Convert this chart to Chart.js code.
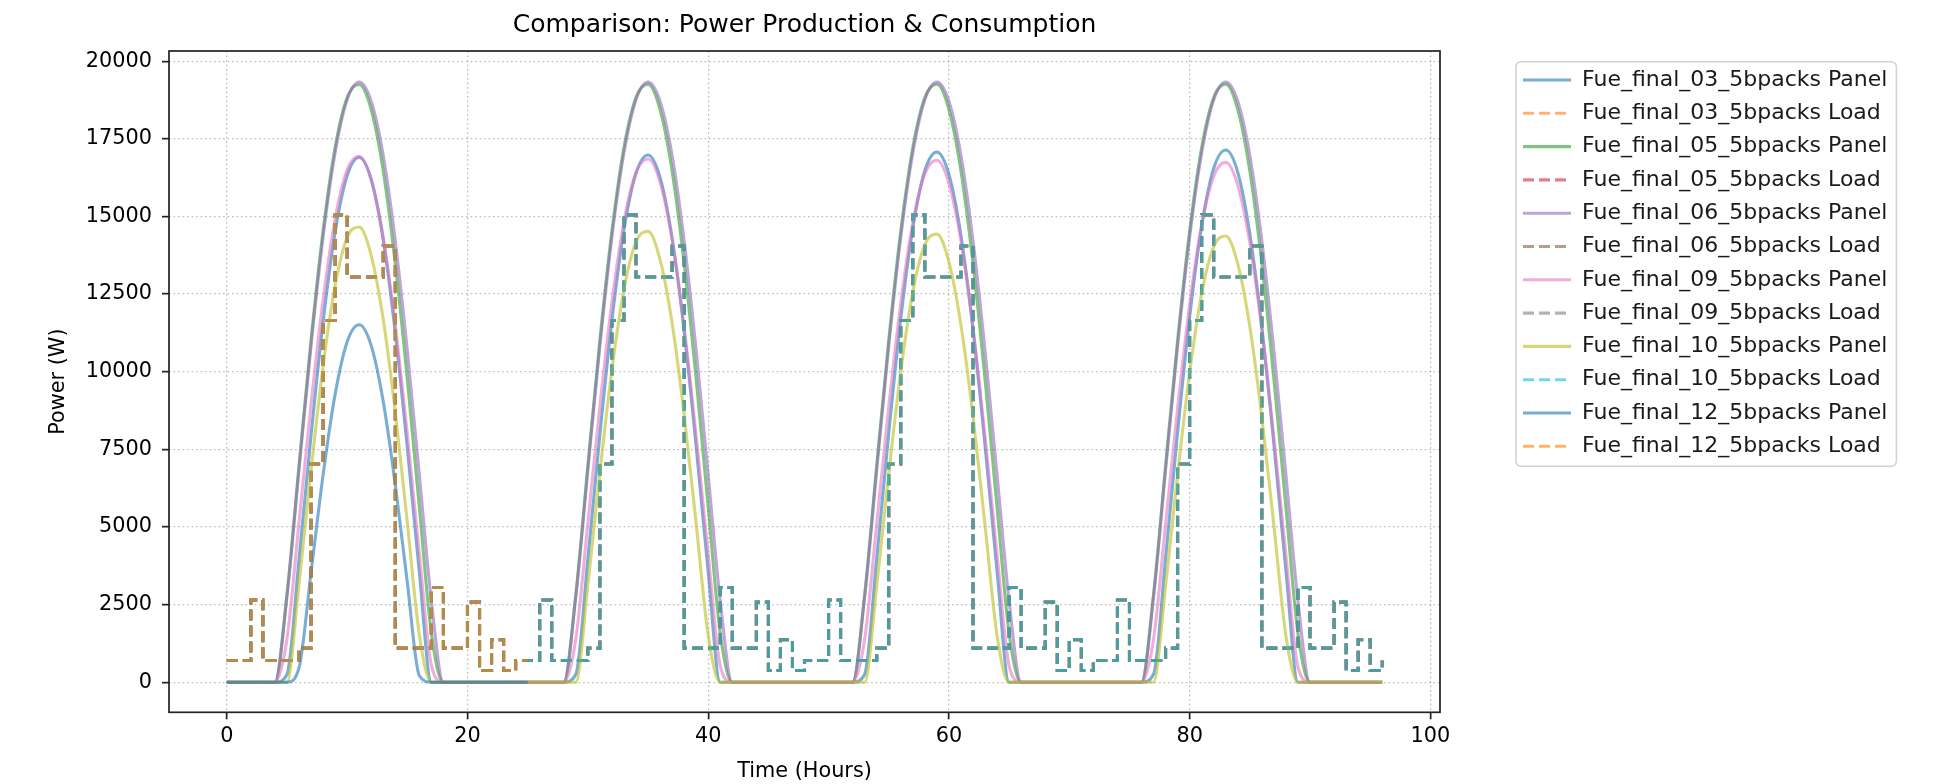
<!DOCTYPE html>
<html>
<head>
<meta charset="utf-8">
<title>Comparison: Power Production &amp; Consumption</title>
<script src="https://cdn.jsdelivr.net/npm/chart.js@4.4.1/dist/chart.umd.min.js"></script>
<style>
  html, body { margin: 0; padding: 0; background: #fff; }
  #wrap { width: 1933px; height: 784px; }
</style>
</head>
<body>
<div id="wrap"><canvas id="chart" width="1933" height="784"></canvas></div>
<script>
// hours 0..96 (time axis of the simulation)
const HOURS = Array.from({ length: 97 }, (_, h) => h);

const X_TICKS = [0, 20, 40, 60, 80, 100];
const Y_TICKS = [0, 2500, 5000, 7500, 10000, 12500, 15000, 17500, 20000];

const SITES = ['Fue_final_03_5bpacks', 'Fue_final_05_5bpacks', 'Fue_final_06_5bpacks',
               'Fue_final_09_5bpacks', 'Fue_final_10_5bpacks', 'Fue_final_12_5bpacks'];

// panel production (W), one value per hour
const panel03 = [
  0,0,0,0,0,250,3940,7940,11600,14490,16310,16900,16190,14240,11260,7550,3540,0,0,0,0,0,0,0,
  0,0,0,0,0,255,3960,7980,11650,14560,16390,16980,16260,14310,11310,7590,3550,0,0,0,0,0,0,0,
  0,0,0,0,0,256,3980,8020,11720,14630,16480,17070,16350,14390,11370,7630,3570,0,0,0,0,0,0,0,
  0,0,0,0,0,257,3990,8060,11760,14690,16550,17140,16420,14440,11420,7660,3590,0,0,0,0,0,0,0,
  0
];
const panel05 = [
  0,0,0,0,0,2820,6970,11020,14530,17220,18830,19250,18440,16460,13480,9760,5630,1570,0,0,0,0,0,0,
  0,0,0,0,0,2820,6970,11020,14530,17220,18830,19260,18440,16460,13480,9760,5630,1570,0,0,0,0,0,0,
  0,0,0,0,0,2820,6970,11020,14530,17220,18830,19260,18440,16460,13480,9760,5630,1570,0,0,0,0,0,0,
  0,0,0,0,0,2820,6970,11020,14530,17220,18830,19260,18440,16460,13480,9760,5630,1570,0,0,0,0,0,0,
  0
];
const panel06 = [
  0,0,0,0,0,2760,6840,10830,14340,17050,18760,19330,18710,16960,14210,10680,6670,2610,0,0,0,0,0,0,
  0,0,0,0,0,2760,6840,10830,14340,17050,18760,19330,18710,16960,14210,10680,6670,2610,0,0,0,0,0,0,
  0,0,0,0,0,2760,6840,10830,14340,17050,18760,19330,18710,16960,14210,10680,6670,2610,0,0,0,0,0,0,
  0,0,0,0,0,2760,6840,10830,14340,17050,18760,19330,18710,16960,14210,10680,6670,2610,0,0,0,0,0,0,
  0
];
const panel09 = [
  0,0,0,0,0,1390,5140,8940,12300,14910,16500,16940,16190,14320,11490,7980,4140,540,0,0,0,0,0,0,
  0,0,0,0,0,1390,5120,8890,12240,14830,16410,16850,16110,14250,11430,7930,4120,530,0,0,0,0,0,0,
  0,0,0,0,0,1380,5100,8870,12210,14790,16370,16810,16070,14210,11410,7920,4110,530,0,0,0,0,0,0,
  0,0,0,0,0,1380,5080,8830,12160,14730,16300,16740,16000,14150,11360,7880,4090,480,0,0,0,0,0,0,
  0
];
const panel10 = [
  0,0,0,0,0,0,3150,6820,10170,12770,14320,14660,13740,11680,8700,5140,1520,0,0,0,0,0,0,0,
  0,0,0,0,0,0,3120,6760,10070,12650,14180,14520,13610,11570,8620,5100,1510,0,0,0,0,0,0,0,
  0,0,0,0,0,0,3100,6720,10010,12570,14090,14430,13530,11500,8570,5060,1500,0,0,0,0,0,0,0,
  0,0,0,0,0,0,3090,6690,9970,12520,14030,14370,13470,11450,8530,5040,1490,0,0,0,0,0,0,0,
  0
];
// site 12 only covers the first 25 hours
const panel12 = [
  0,0,0,0,0,0,460,3530,6670,9270,10960,11510,10840,9040,6370,3210,210,0,0,0,0,0,0,0,
  0,0
];

// consumption (W), hourly steps; sites 03/05/06/09/10 share the same profile
const loadShared = [
  700,700,2650,700,700,700,1100,7030,11650,15050,13050,13050,13050,14050,1100,1100,1100,3050,1100,1100,2580,380,1370,380,
  700,700,2650,700,700,700,1100,7030,11650,15050,13050,13050,13050,14050,1100,1100,1100,3050,1100,1100,2580,380,1370,380,
  700,700,2650,700,700,700,1100,7030,11650,15050,13050,13050,13050,14050,1100,1100,1100,3050,1100,1100,2580,380,1370,380,
  700,700,2650,700,700,700,1100,7030,11650,15050,13050,13050,13050,14050,1100,1100,1100,3050,1100,1100,2580,380,1370,380,
  700
];
const load12 = [
  700,700,2650,700,700,700,1100,7030,11650,15050,13050,13050,13050,14050,1100,1100,1100,3050,1100,1100,2580,380,1370,380,
  700,700
];

const PANELS = [panel03, panel05, panel06, panel09, panel10, panel12];
const LOADS = [loadShared, loadShared, loadShared, loadShared, loadShared, load12];

// matplotlib tab10 cycle, drawn at alpha 0.6
const COLORS = ['31,119,180', '255,127,14', '44,160,44', '214,39,40', '148,103,189',
                '140,86,75', '227,119,194', '127,127,127', '188,189,34', '23,190,207'];

const FONT = 'DejaVu Sans';
const TICK_SIZE = 20.8;
const LEGEND_SIZE = 22;
const LEGEND_PAD = 11.3;
const LEGEND_LINE = 48;
const LEGEND_LEFT = 1523;      // where the first legend handle starts
const LEGEND_FIRST_ROW = 80;   // centre of first legend row
const PLOT_LEFT = 169;
const PLOT_RIGHT = 1440;
const PLOT_BOTTOM = 712.3;

function toPoints(values) {
  return values.map((v, i) => ({ x: HOURS[i], y: v }));
}

const datasets = [];
SITES.forEach((site, s) => {
  const panelColor = COLORS[(2 * s) % 10];
  const loadColor = COLORS[(2 * s + 1) % 10];
  datasets.push({
    label: site + ' Panel',
    data: toPoints(PANELS[s]),
    borderColor: `rgba(${panelColor},0.6)`,
    backgroundColor: `rgba(${panelColor},0.6)`,
    borderWidth: 3.1,
    cubicInterpolationMode: 'monotone',
    pointRadius: 0,
    fill: false
  });
  datasets.push({
    label: site + ' Load',
    data: toPoints(LOADS[s]),
    borderColor: `rgba(${loadColor},0.6)`,
    backgroundColor: `rgba(${loadColor},0.6)`,
    borderWidth: 3.1,
    borderDash: [11, 5],
    stepped: true,
    pointRadius: 0,
    fill: false
  });
});
// later series sit on top, like the matplotlib plot order
datasets.forEach((ds, i) => { ds.order = datasets.length - i; });

// width the legend box needs, so the plot keeps its right edge
const measureCtx = document.createElement('canvas').getContext('2d');
measureCtx.font = `${LEGEND_SIZE}px "${FONT}"`;
const widestLabel = Math.max(...datasets.map(d => measureCtx.measureText(d.label).width));
const legendWidth = LEGEND_PAD + LEGEND_LINE + LEGEND_SIZE / 2 + widestLabel + 10;

const axesFrame = {
  id: 'axesFrame',
  afterLayout(chart) {
    // move the legend block to its place right of the plot
    const lg = chart.legend;
    const dx = LEGEND_LEFT - (lg.left + LEGEND_PAD);
    const dy = LEGEND_FIRST_ROW - (lg.top + LEGEND_PAD + LEGEND_SIZE / 2);
    lg.left += dx; lg.right += dx;
    lg.top += dy; lg.bottom += dy;
  },
  beforeDraw(chart) {
    // legend frame
    const ctx = chart.ctx;
    const n = chart.data.datasets.length;
    const step = LEGEND_SIZE + LEGEND_PAD;
    const x0 = LEGEND_LEFT - 7;
    const y0 = LEGEND_FIRST_ROW - 18.3;
    const x1 = LEGEND_LEFT + LEGEND_LINE + LEGEND_SIZE / 2 + widestLabel + 9;
    const y1 = LEGEND_FIRST_ROW + (n - 1) * step + 20;
    const r = 5;
    ctx.save();
    ctx.beginPath();
    ctx.moveTo(x0 + r, y0);
    ctx.arcTo(x1, y0, x1, y1, r);
    ctx.arcTo(x1, y1, x0, y1, r);
    ctx.arcTo(x0, y1, x0, y0, r);
    ctx.arcTo(x0, y0, x1, y0, r);
    ctx.closePath();
    ctx.fillStyle = 'rgba(255,255,255,0.8)';
    ctx.fill();
    ctx.lineWidth = 1.6;
    ctx.strokeStyle = '#d3d3d3';
    ctx.stroke();
    ctx.restore();
  },
  afterDatasetsDraw(chart) {
    const { ctx, chartArea: a } = chart;
    ctx.save();
    ctx.lineWidth = 1.7;
    ctx.strokeStyle = '#222';
    ctx.strokeRect(a.left, a.top, a.right - a.left, a.bottom - a.top);
    ctx.restore();
  }
};

Chart.defaults.font.family = FONT;

new Chart(document.getElementById('chart'), {
  type: 'line',
  data: { datasets },
  options: {
    responsive: false,
    animation: false,
    devicePixelRatio: 1,
    layout: { padding: { top: 0, right: 1933 - PLOT_RIGHT - legendWidth, bottom: 0, left: 0 } },
    scales: {
      x: {
        type: 'linear',
        min: -4.8,
        max: 100.8,
        afterBuildTicks: (scale) => { scale.ticks = X_TICKS.map(v => ({ value: v })); },
        afterFit: (scale) => { scale.height = 784 - PLOT_BOTTOM; },
        ticks: {
          autoSkip: false, maxRotation: 0, padding: 5, color: '#000',
          font: { size: TICK_SIZE },
          callback: (v) => String(v)
        },
        grid: {
          color: 'rgba(176,176,176,0.8)', lineWidth: 1.3,
          tickLength: 7, tickColor: '#222', tickWidth: 1.7
        },
        border: { display: false, dash: [1.7, 2.8] },
        title: {
          display: true, text: 'Time (Hours)', color: '#000',
          font: { size: TICK_SIZE }, padding: { top: 0, bottom: 0 }
        }
      },
      y: {
        type: 'linear',
        min: -968,
        max: 20328,
        afterBuildTicks: (scale) => { scale.ticks = Y_TICKS.map(v => ({ value: v })); },
        afterFit: (scale) => { scale.width = PLOT_LEFT; },
        ticks: {
          padding: 10, color: '#000',
          font: { size: TICK_SIZE },
          callback: (v) => String(v)
        },
        grid: {
          color: 'rgba(176,176,176,0.8)', lineWidth: 1.3,
          tickLength: 7, tickColor: '#222', tickWidth: 1.7
        },
        border: { display: false, dash: [1.7, 2.8] },
        title: {
          display: true, text: 'Power (W)', color: '#000',
          font: { size: TICK_SIZE }, padding: { top: 46, bottom: 0 }
        }
      }
    },
    plugins: {
      title: {
        display: true,
        text: 'Comparison: Power Production & Consumption',
        color: '#000',
        font: { size: 25, weight: 'normal' },
        padding: { top: 10, bottom: 11 },
        fullSize: false
      },
      legend: {
        position: 'right',
        align: 'start',
        fullSize: false,
        reverse: true,
        labels: {
          usePointStyle: true,
          pointStyle: 'line',
          pointStyleWidth: LEGEND_LINE,
          boxHeight: LEGEND_SIZE,
          padding: LEGEND_PAD,
          color: '#1a1a1a',
          font: { size: LEGEND_SIZE },
          generateLabels(chart) {
            const items = Chart.defaults.plugins.legend.labels.generateLabels(chart);
            return items.map(item => {
              const ds = chart.data.datasets[item.datasetIndex];
              return Object.assign(item, {
                lineDash: ds.borderDash || [],
                lineWidth: ds.borderWidth,
                strokeStyle: ds.borderColor,
                pointStyle: 'line'
              });
            });
          }
        }
      },
      tooltip: { enabled: false }
    }
  },
  plugins: [axesFrame]
});
</script>
</body>
</html>
